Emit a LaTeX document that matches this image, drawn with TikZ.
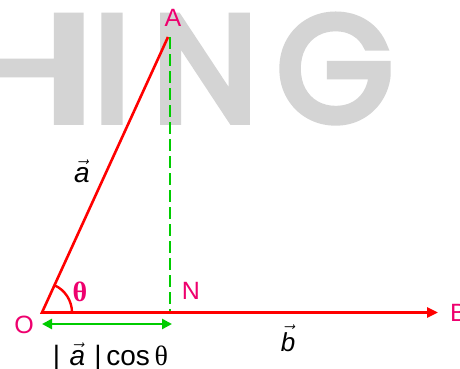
\documentclass[tikz,border=0pt]{standalone}
\usepackage{fontspec}
\setmainfont{Liberation Sans}
\newfontfamily\wmfont[FakeBold=5]{Poppins}
\newfontfamily\thfont{Liberation Serif}
\usetikzlibrary{arrows.meta}
\definecolor{vred}{RGB}{255,0,0}
\definecolor{vgreen}{RGB}{0,204,0}
\definecolor{vmag}{RGB}{238,0,110}
\definecolor{wmgrey}{RGB}{212,212,212}
\tikzset{
  redline/.style={draw=vred, line width=2.6pt},
  greendash/.style={draw=vgreen, line width=2.5pt, dash pattern=on 12pt off 5pt},
  greenline/.style={draw=vgreen, line width=2.5pt},
  redarc/.style={draw=vred, line width=2.4pt},
  wmletter/.style={text=wmgrey, font=\wmfont\fontsize{150}{150}\selectfont, inner sep=0pt, anchor=base},
  plabel/.style={text=vmag, font=\fontsize{25}{25}\selectfont, inner sep=0pt},
  blabel/.style={text=black, font=\fontsize{28}{28}\selectfont, inner sep=0pt, anchor=base},
}
\begin{document}
\begin{tikzpicture}[x=1pt,y=1pt]
\useasboundingbox (0,0) rectangle (460,368);
\begin{scope}
\clip (0,0) rectangle (460,368);
\fill[white] (0,0) rectangle (460,368);
% watermark
\node[wmletter] (wH) at (22,247) {\scalebox{1.4}[1]{H}};
\node[wmletter] (wI) at (112,247) {I};
\node[wmletter] (wN) at (205,247) {N};
\node[wmletter] (wG) at (335,247) {G};
% points
\coordinate (O) at (42,55.5);
\coordinate (A) at (168,331);
\coordinate (Atop) at (170,331);
\coordinate (N) at (170,55.5);
\coordinate (B) at (438,55.5);
\coordinate (P1) at (42,44);
\coordinate (P2) at (172,44);
% lines
\draw[greendash] (Atop) -- (N);
\draw[redline, -{Triangle[length=11pt,width=10pt]}] (A) -- (O) -- (B);
\draw[greenline, {Triangle[length=10pt,width=10pt]}-{Triangle[length=10pt,width=10pt]}] (P1) -- (P2);
\draw[redarc] ([shift={(0:30)}]O) arc (0:65.4:30);
% labels
\node[plabel] (lA) at (173,350) {A};
\node[plabel] (lO) at (24,43) {O};
\node[plabel] (lN) at (191,77) {N};
\node[plabel, anchor=west] (lB) at (450,55.5) {B};
\node[plabel, font=\thfont\bfseries\fontsize{28}{28}\selectfont] (lth) at (80,76) {θ};
\node[blabel] (la) at (82,186) {$\vec{\mbox{\itshape a}}$};
\node[blabel, font=\fontsize{26}{26}\selectfont] (lb) at (288,17) {$\vec{\mbox{\itshape b}}$};
\node[blabel] (lproj) at (110.5,3) {|\,\,$\vec{\mbox{\itshape a}}$\,\,|\,cos\,{\thfont θ}};
\end{scope}
\end{tikzpicture}
\end{document}
